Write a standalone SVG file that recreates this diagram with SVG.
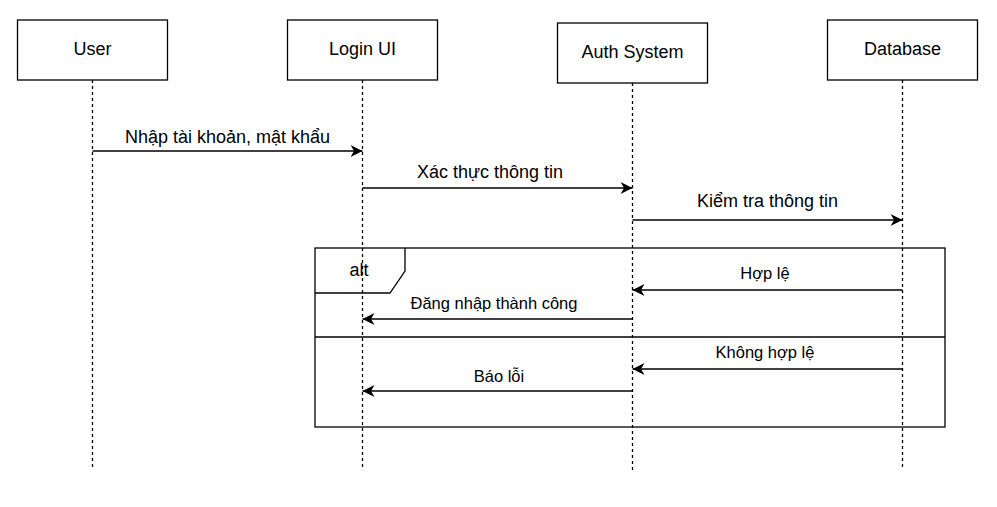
<svg xmlns="http://www.w3.org/2000/svg" width="997" height="507" viewBox="0 0 997 507">
<style>
text{font-family:"Liberation Sans",Arial,sans-serif;font-size:18px;fill:#000;text-anchor:middle}
text.s{font-size:16.5px}
.box{fill:#fff;stroke:#000;stroke-width:1.3}
.life{stroke:#000;stroke-width:1.3;stroke-dasharray:3 3;fill:none}
.msg{stroke:#000;stroke-width:1.3;fill:none;marker-end:url(#ah)}
.frame{fill:none;stroke:#000;stroke-width:1.3}
</style>
<defs>
<marker id="ah" markerUnits="userSpaceOnUse" markerWidth="14" markerHeight="12" refX="12" refY="6" orient="auto">
<path d="M0,0 L12,6 L0,12 L3.5,6 Z" fill="#000"/>
</marker>
</defs>
<rect width="997" height="507" fill="#fff"/>
<g id="lifelines">
<line class="life" x1="92.5" y1="80" x2="92.5" y2="470"/>
<line class="life" x1="362.5" y1="80" x2="362.5" y2="470"/>
<line class="life" x1="632.5" y1="83" x2="632.5" y2="473"/>
<line class="life" x1="902.5" y1="80" x2="902.5" y2="470"/>
</g>
<g id="user"><rect class="box" x="17.5" y="20" width="150" height="60"/><text x="92.5" y="55">User</text></g>
<g id="loginui"><rect class="box" x="287.5" y="20" width="150" height="60"/><text x="362.5" y="55">Login UI</text></g>
<g id="auth"><rect class="box" x="557.5" y="23" width="150" height="60"/><text x="632.5" y="58">Auth System</text></g>
<g id="database"><rect class="box" x="827.5" y="20" width="150" height="60"/><text x="902.5" y="55">Database</text></g>
<g id="alt-frame">
<rect class="frame" x="315" y="248" width="630" height="179"/>
<path class="frame" d="M315,293 L390,293 L405,271 L405,248"/>
<line class="frame" x1="315" y1="337" x2="945" y2="337"/>
<text x="359" y="276">alt</text>
</g>
<g id="connectors">
<line class="msg" x1="92.5" y1="151" x2="362.5" y2="151"/>
<text x="227.5" y="143">Nhập tài khoản, mật khẩu</text>
<line class="msg" x1="362.5" y1="188" x2="632.5" y2="188"/>
<text x="490" y="178">Xác thực thông tin</text>
<line class="msg" x1="632.5" y1="220" x2="902.5" y2="220"/>
<text x="767.5" y="207">Kiểm tra thông tin</text>
<line class="msg" x1="902.5" y1="290" x2="632.5" y2="290"/>
<text x="765" y="279" class="s">Hợp lệ</text>
<line class="msg" x1="632.5" y1="319" x2="362.5" y2="319"/>
<text x="494" y="309" class="s">Đăng nhập thành công</text>
<line class="msg" x1="902.5" y1="369" x2="632.5" y2="369"/>
<text x="765" y="358" class="s">Không hợp lệ</text>
<line class="msg" x1="632.5" y1="391" x2="362.5" y2="391"/>
<text x="499" y="382" class="s">Báo lỗi</text>
</g>
</svg>
